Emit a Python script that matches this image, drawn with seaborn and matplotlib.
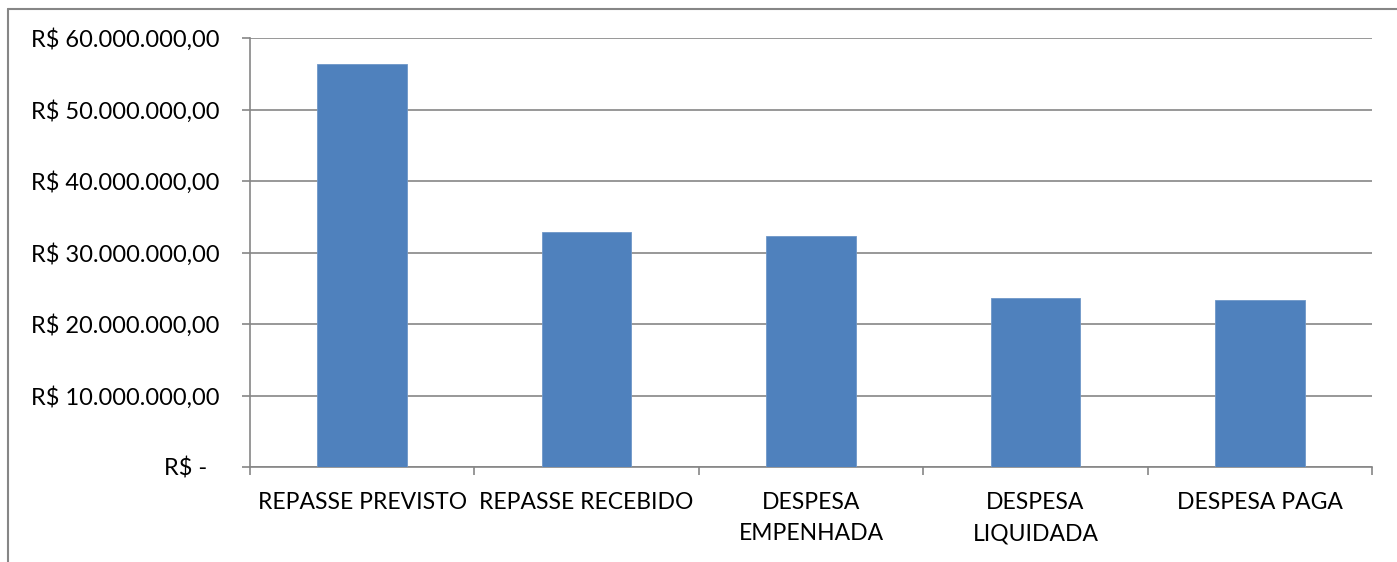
import matplotlib
matplotlib.use("Agg")
import matplotlib.pyplot as plt
from matplotlib.lines import Line2D
from matplotlib.ticker import FixedLocator, FuncFormatter
import seaborn as sns
import pandas as pd

categories = ["REPASSE PREVISTO", "REPASSE RECEBIDO", "DESPESA\nEMPENHADA",
              "DESPESA\nLIQUIDADA", "DESPESA PAGA"]
values = [56_400_000, 32_900_000, 32_300_000, 23_700_000, 23_400_000]
y_ticks = [0, 10_000_000, 20_000_000, 30_000_000, 40_000_000, 50_000_000, 60_000_000]

sns.set_style("white")
plt.rcParams['font.family'] = ['Lato', 'DejaVu Sans']

df = pd.DataFrame({"cat": categories, "val": values})

fig = plt.figure(figsize=(13.97, 5.62), dpi=100)
ax = fig.add_axes([250/1397, 1 - 467/562, (1372-250)/1397, (467-38)/562])

sns.barplot(data=df, x="cat", y="val", order=categories, color="#4F81BD",
            saturation=1, width=0.4, edgecolor="#6F97C8", linewidth=0.6, ax=ax, zorder=3)

grid_c = "#868686"
ax.set_ylim(0, 60_000_000)
ax.set_xlim(-0.5, len(categories) - 0.5)
ax.yaxis.set_major_locator(FixedLocator(y_ticks))

def fmt(v, pos):
    if v == 0:
        return "R$ -  "
    s = f"{v:,.2f}".replace(",", "X").replace(".", ",").replace("X", ".")
    return "R$ " + s
ax.yaxis.set_major_formatter(FuncFormatter(fmt))
ax.grid(axis="y", color=grid_c, linewidth=1.2, zorder=0)
ax.set_axisbelow(True)
ax.set_xlabel("")
ax.set_ylabel("")

for side in ["top", "right"]:
    ax.spines[side].set_visible(False)
for side in ["left", "bottom"]:
    ax.spines[side].set_color(grid_c)
    ax.spines[side].set_linewidth(1.2)

ax.tick_params(axis="y", which="major", direction="out", length=6, width=1.2,
               color=grid_c, left=True, labelsize=17, pad=16, labelcolor="black")
ax.tick_params(axis="x", which="major", length=0, labelsize=16.5, pad=18,
               labelcolor="black")
ax.set_xticks(range(len(categories)))
ax.set_xticklabels(categories, linespacing=1.6, va="top")
ax.set_xticks([i - 0.5 for i in range(len(categories) + 1)], minor=True)
ax.tick_params(axis="x", which="minor", direction="out", length=6, width=1.2,
               color=grid_c, bottom=True)

# outer chart border (top and left visible)
fig.add_artist(Line2D([7.5/1397, 7.5/1397], [0, 1 - 9/562], transform=fig.transFigure,
                      color=grid_c, linewidth=1.5))
fig.add_artist(Line2D([7.5/1397, 1], [1 - 9/562, 1 - 9/562], transform=fig.transFigure,
                      color=grid_c, linewidth=1.5))

fig.savefig("out.png", dpi=100, facecolor="white")
